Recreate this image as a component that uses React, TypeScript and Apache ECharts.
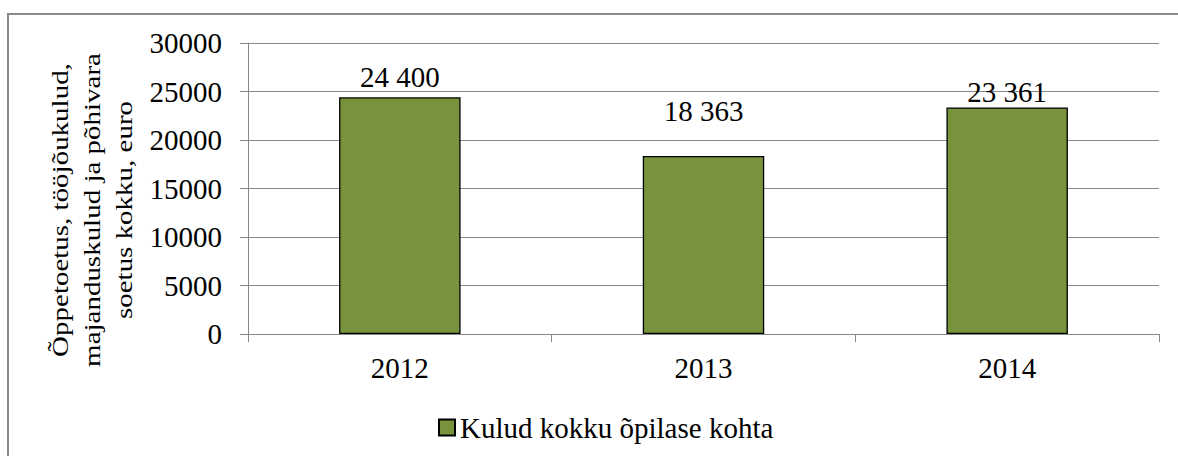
import React, { useEffect, useRef } from "react";
import * as echarts from "echarts";

const categories = ["2012", "2013", "2014"];
const values = [24400, 18363, 23361];
const labelDistances = [6, 30, 1];
const seriesName = "Kulud kokku õpilase kohta";
const yTitle = "Õppetoetus, tööjõukulud,\nmajanduskulud ja põhivara\nsoetus kokku, euro";
const yMin = 0;
const yMax = 30000;
const yInterval = 5000;

const FONT = "Liberation Serif";
const GRID_COLOR = "#888888";

const fmt = (v: number) => String(v).replace(/\B(?=(\d{3})+(?!\d))/g, " ");

export default function App() {
  const ref = useRef<HTMLDivElement>(null);
  useEffect(() => {
    document.body.style.margin = "0";
    const chart = echarts.init(ref.current!, null, { renderer: "svg" });
    chart.setOption({
      animation: false,
      backgroundColor: "#ffffff",
      textStyle: { fontFamily: FONT },
      grid: { left: 248, top: 43, right: 19, bottom: 122, containLabel: false },
      legend: {
        data: [seriesName],
        left: 433,
        top: 408,
        itemWidth: 16,
        itemHeight: 16,
        icon: "rect",
        textStyle: { fontFamily: FONT, fontSize: 29, color: "#000" },
      },
      xAxis: {
        type: "category",
        data: categories,
        axisLine: { lineStyle: { color: GRID_COLOR, width: 1 } },
        axisTick: { show: true, length: 8, lineStyle: { color: GRID_COLOR } },
        axisLabel: { fontFamily: FONT, fontSize: 29, color: "#000", margin: 19 },
      },
      yAxis: {
        type: "value",
        min: yMin,
        max: yMax,
        interval: yInterval,
        axisLine: { show: true, lineStyle: { color: GRID_COLOR, width: 1 } },
        axisTick: { show: true, length: 8, lineStyle: { color: GRID_COLOR } },
        splitLine: { show: true, lineStyle: { color: GRID_COLOR, width: 1 } },
        axisLabel: {
          fontFamily: FONT,
          fontSize: 29,
          color: "#000",
          margin: 26,
          formatter: (v: number) => String(v),
        },
      },
      graphic: [
        {
          type: "rect",
          shape: { x: 8, y: 14, width: 1200, height: 500 },
          style: { fill: "none", stroke: "#8a8a8a", lineWidth: 2 },
          silent: true,
          z: -10,
        },
        {
          type: "text",
          x: 93,
          y: 210,
          rotation: Math.PI / 2,
          scaleX: 1.26,
          style: {
            text: yTitle,
            font: `23px ${FONT}`,
            fill: "#000",
            align: "center",
            verticalAlign: "middle",
            textAlign: "center",
            textVerticalAlign: "middle",
            lineHeight: 32,
          },
        },
      ],
      series: [
        {
          name: seriesName,
          type: "bar",
          barWidth: "40%",
          data: values.map((v, i) => ({ value: v, label: { distance: labelDistances[i] } })),
          itemStyle: { color: "#77933C", borderColor: "#000", borderWidth: 1.3 },
          label: {
            show: true,
            position: "top",
            fontFamily: FONT,
            fontSize: 29,
            color: "#000",
            formatter: (p: any) => fmt(p.value),
          },
        },
      ],
    });
    return () => chart.dispose();
  }, []);
  return <div ref={ref} style={{ width: 1178, height: 456 }} />;
}
